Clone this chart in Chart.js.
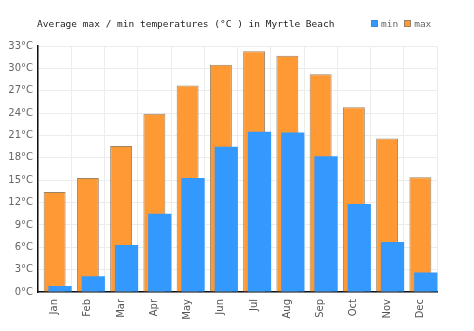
<!DOCTYPE html>
<html lang="en">
<head>
    <meta charset="UTF-8" />
    <title>Myrtle Beach temperatures</title>
    <script src="https://cdn.jsdelivr.net/npm/chart.js"></script>
    <style>
        body {
            margin: 0;
            background: #fff;
        }

        .wrap {
            position: relative;
            width: 474px;
            height: 331px;
        }

        .chart-title {
            position: absolute;
            left: 37px;
            top: 17px;
            font: 9.5px "DejaVu Sans Mono", monospace;
            line-height: 13px;
            color: #222;
            white-space: pre;
        }

        .legend {
            position: absolute;
            left: 371px;
            top: 17px;
            font: 9.5px "DejaVu Sans Mono", monospace;
            line-height: 13px;
            color: #666;
            display: flex;
        }

        .legend span.item {
            display: flex;
            align-items: center;
            margin-right: 6px;
        }

        .legend i {
            display: inline-block;
            width: 5px;
            height: 5px;
            margin-right: 3px;
            border: 1px solid;
        }
    </style>
</head>
<body>
    <div class="wrap">
        <canvas id="tempChart" width="474" height="331"></canvas>
        <div class="chart-title">Average max / min temperatures (°C ) in Myrtle Beach</div>
        <div class="legend" id="legend"></div>
    </div>

    <script>
        const months = ['Jan', 'Feb', 'Mar', 'Apr', 'May', 'Jun', 'Jul', 'Aug', 'Sep', 'Oct', 'Nov', 'Dec'];
        const minTemps = [0.8, 2.1, 6.3, 10.5, 15.3, 19.5, 21.5, 21.4, 18.2, 11.8, 6.7, 2.6];
        const maxTemps = [13.4, 15.3, 19.6, 23.9, 27.7, 30.5, 32.3, 31.7, 29.2, 24.8, 20.6, 15.4];
        const yMin = 0;
        const yMax = 33;
        const yStep = 3;

        const series = [
            { label: 'min', data: minTemps, fill: '#3399ff', edge: '#3a8ae0' },
            { label: 'max', data: maxTemps, fill: '#ff9933', edge: '#9a8468' }
        ];

        // min bars sit on top of max bars, nudged a little to the right
        const shiftMin = {
            id: 'shiftMin',
            beforeDatasetDraw(chart, args) {
                chart.ctx.save();
                if (args.index === 0) chart.ctx.translate(5.4, 0);
            },
            afterDatasetDraw(chart) {
                chart.ctx.restore();
            }
        };

        const tickFont = { family: 'DejaVu Sans', size: 10 };

        new Chart(document.getElementById('tempChart'), {
            type: 'bar',
            data: {
                labels: months,
                datasets: [
                    {
                        label: series[0].label,
                        data: series[0].data,
                        backgroundColor: series[0].fill,
                        borderColor: series[0].edge,
                        borderWidth: 0,
                        grouped: false,
                        categoryPercentage: 1,
                        barPercentage: 0.7
                    },
                    {
                        label: series[1].label,
                        data: series[1].data,
                        backgroundColor: series[1].fill,
                        borderColor: series[1].edge,
                        borderWidth: 1,
                        grouped: false,
                        categoryPercentage: 1,
                        barPercentage: 0.66
                    }
                ]
            },
            options: {
                responsive: false,
                animation: false,
                devicePixelRatio: 1,
                layout: {
                    padding: { top: 46, right: 37, bottom: 0, left: 0 }
                },
                plugins: {
                    legend: { display: false },
                    title: { display: false },
                    tooltip: { enabled: false }
                },
                scales: {
                    x: {
                        grid: { color: '#ececec', drawTicks: false, offset: true },
                        border: { color: '#111', width: 1.5 },
                        ticks: {
                            font: tickFont,
                            color: '#555',
                            minRotation: 90,
                            maxRotation: 90,
                            padding: 7
                        },
                        afterFit(scale) { scale.height = 39; }
                    },
                    y: {
                        min: yMin,
                        max: yMax,
                        grid: { color: '#ececec', drawTicks: false },
                        border: { color: '#111', width: 1.5 },
                        ticks: {
                            stepSize: yStep,
                            font: tickFont,
                            color: '#666',
                            padding: 5,
                            callback: v => v + '°C'
                        },
                        afterFit(scale) { scale.width = 38; }
                    }
                }
            },
            plugins: [shiftMin]
        });

        // legend row next to the title
        const legend = document.getElementById('legend');
        series.forEach(s => {
            const item = document.createElement('span');
            item.className = 'item';
            const box = document.createElement('i');
            box.style.background = s.fill;
            box.style.borderColor = s.edge;
            item.appendChild(box);
            item.appendChild(document.createTextNode(s.label));
            legend.appendChild(item);
        });
    </script>
</body>
</html>
